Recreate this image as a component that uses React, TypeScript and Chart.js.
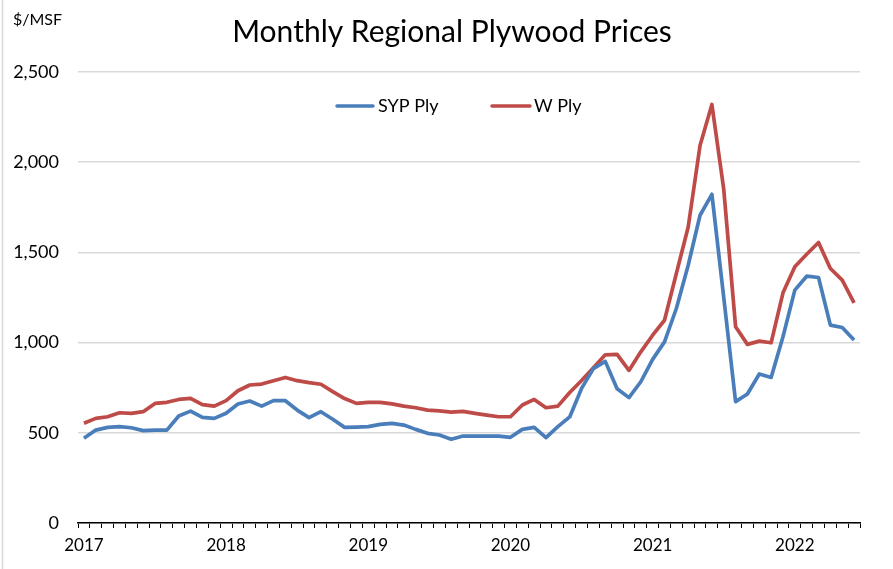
import React, { useEffect, useRef } from "react";
import { Chart, registerables } from "chart.js";

Chart.register(...registerables);

const months = [
  "2017-01", "2017-02", "2017-03", "2017-04", "2017-05", "2017-06", "2017-07", "2017-08", "2017-09", "2017-10", "2017-11", "2017-12",
  "2018-01", "2018-02", "2018-03", "2018-04", "2018-05", "2018-06", "2018-07", "2018-08", "2018-09", "2018-10", "2018-11", "2018-12",
  "2019-01", "2019-02", "2019-03", "2019-04", "2019-05", "2019-06", "2019-07", "2019-08", "2019-09", "2019-10", "2019-11", "2019-12",
  "2020-01", "2020-02", "2020-03", "2020-04", "2020-05", "2020-06", "2020-07", "2020-08", "2020-09", "2020-10", "2020-11", "2020-12",
  "2021-01", "2021-02", "2021-03", "2021-04", "2021-05", "2021-06", "2021-07", "2021-08", "2021-09", "2021-10", "2021-11", "2021-12",
  "2022-01", "2022-02", "2022-03", "2022-04", "2022-05", "2022-06",
];

const sypPly = [
  470, 515, 530, 534, 528, 512, 515, 515, 593, 620, 586, 580,
  608, 660, 676, 648, 678, 678, 626, 584, 617, 575, 530, 532,
  534, 547, 552, 543, 519, 497, 488, 464, 482, 482, 482, 482,
  475, 519, 530, 473, 534, 588, 746, 856, 896, 744, 695, 783,
  907, 1004, 1189, 1429, 1706, 1822, 1250, 673, 715, 826, 807, 1032,
  1291, 1368, 1361, 1097, 1084, 1014,
];

const wPly = [
  553, 580, 589, 611, 608, 617, 663, 669, 685, 691, 656, 648,
  678, 733, 765, 770, 789, 807, 789, 778, 769, 728, 690, 663,
  669, 669, 660, 648, 639, 626, 622, 615, 619, 608, 598, 589,
  589, 654, 685, 639, 648, 723, 790, 861, 932, 935, 846, 949,
  1041, 1124, 1383, 1641, 2093, 2320, 1850, 1088, 990, 1008, 999, 1276,
  1420, 1490, 1555, 1411, 1346, 1220,
];

const seriesNames = ["SYP Ply", "W Ply"];
const seriesColors = ["#4A7EBB", "#BE4B48"];
const titleText = "Monthly Regional Plywood Prices";
const unitText = "$/MSF";
const yTicks = [0, 500, 1000, 1500, 2000, 2500];

const FONT = "Lato, 'Open Sans', sans-serif";

const decorPlugin = {
  id: "decor",
  afterDraw(chart: any) {
    const ctx = chart.ctx;
    ctx.save();
    // left border
    ctx.strokeStyle = "#d9d9d9";
    ctx.lineWidth = 1.5;
    ctx.beginPath();
    ctx.moveTo(2.5, 0);
    ctx.lineTo(2.5, chart.height);
    ctx.stroke();
    // title
    ctx.fillStyle = "#000";
    ctx.textAlign = "center";
    ctx.textBaseline = "alphabetic";
    ctx.font = `30px ${FONT}`;
    ctx.fillText(titleText, 452, 42);
    // unit
    ctx.textAlign = "left";
    ctx.font = `16px ${FONT}`;
    ctx.fillText(unitText, 13, 25);
    // legend
    const items = [
      { x0: 337, x1: 373, tx: 378 },
      { x0: 492, x1: 530, tx: 534 },
    ];
    ctx.font = `18px ${FONT}`;
    ctx.textBaseline = "middle";
    chart.data.datasets.forEach((ds: any, i: number) => {
      const it = items[i];
      ctx.strokeStyle = ds.borderColor;
      ctx.lineWidth = 3.5;
      ctx.lineCap = "round";
      ctx.beginPath();
      ctx.moveTo(it.x0, 106);
      ctx.lineTo(it.x1, 106);
      ctx.stroke();
      ctx.fillStyle = "#000";
      ctx.fillText(ds.label, it.tx, 106);
    });
    ctx.restore();
  },
};

export default function App() {
  const ref = useRef<HTMLCanvasElement>(null);

  useEffect(() => {
    if (!ref.current) return;
    const chart = new Chart(ref.current, {
      type: "line",
      data: {
        labels: months,
        datasets: [
          {
            label: seriesNames[0],
            data: sypPly,
            borderColor: seriesColors[0],
            backgroundColor: seriesColors[0],
            borderWidth: 3.7,
            pointRadius: 0,
            tension: 0,
            borderJoinStyle: "round",
          },
          {
            label: seriesNames[1],
            data: wPly,
            borderColor: seriesColors[1],
            backgroundColor: seriesColors[1],
            borderWidth: 3.7,
            pointRadius: 0,
            tension: 0,
            borderJoinStyle: "round",
          },
        ],
      },
      options: {
        animation: false,
        responsive: false,
        devicePixelRatio: 1,
        layout: { padding: { left: 0, right: 33, top: 72, bottom: 0 } },
        plugins: {
          legend: { display: false },
          tooltip: { enabled: false },
          title: { display: false },
        },
        scales: {
          x: {
            type: "category",
            offset: true,
            grid: {
              offset: true,
              drawOnChartArea: false,
              drawTicks: true,
              tickLength: 5,
              tickColor: "#000",
              tickWidth: 1,
            },
            border: { display: true, color: "#000", width: 1.5 },
            ticks: {
              autoSkip: false,
              maxRotation: 0,
              minRotation: 0,
              padding: 7,
              color: "#000",
              font: { family: FONT, size: 17 },
              callback: (_v: any, i: number) =>
                months[i].endsWith("-01") ? months[i].slice(0, 4) : "",
            },
            afterFit: (s: any) => {
              s.height = 46;
            },
          },
          y: {
            min: yTicks[0],
            max: yTicks[yTicks.length - 1],
            afterBuildTicks: (s: any) => {
              s.ticks = yTicks.map((v) => ({ value: v }));
            },
            grid: { color: "#d9d9d9", lineWidth: 1.5, drawTicks: false },
            border: { display: false },
            ticks: {
              padding: 19,
              color: "#000",
              font: { family: FONT, size: 18 },
              callback: (v: any) => Number(v).toLocaleString("en-US"),
            },
            afterFit: (s: any) => {
              s.width = 78;
            },
          },
        },
      },
      plugins: [decorPlugin],
    });
    return () => chart.destroy();
  }, []);

  return (
    <div style={{ position: "fixed", left: 0, top: 0, width: 893, height: 569, background: "#fff" }}>
      <canvas ref={ref} width={893} height={569} style={{ width: 893, height: 569, display: "block" }} />
    </div>
  );
}
